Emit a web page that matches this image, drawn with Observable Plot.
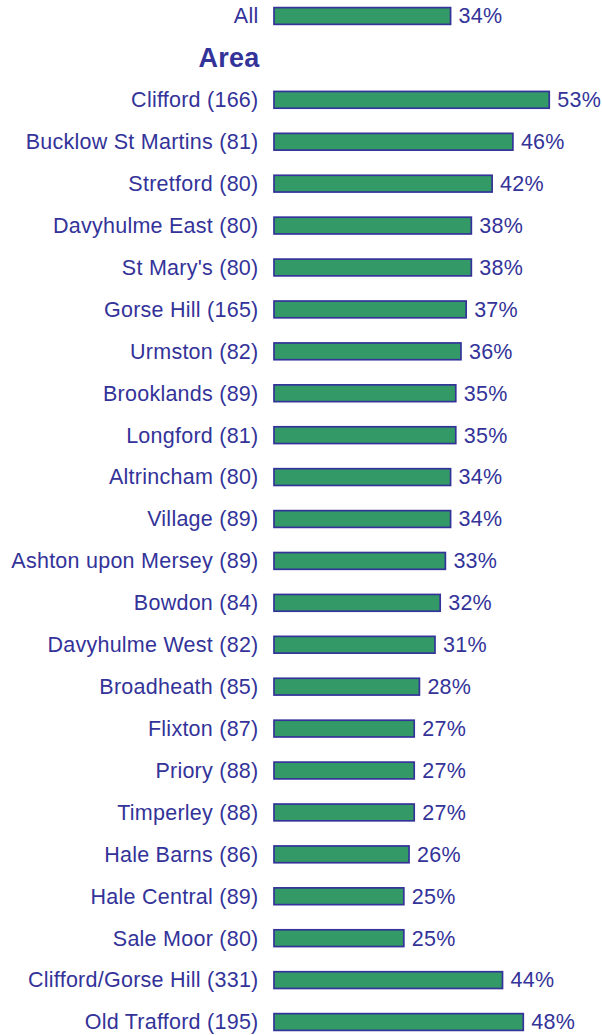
<!DOCTYPE html>
<html><head><meta charset="utf-8">
<script src="https://cdn.jsdelivr.net/npm/d3@7"></script>
<script src="https://cdn.jsdelivr.net/npm/@observablehq/plot@0.6"></script>
<style>body{margin:0;background:#fff}</style>
</head><body><div id="chart"></div>
<script>
const overallLabel = "All";
const overallValue = 34;
const sectionTitle = "Area";
const areas = [
  "Clifford (166)", "Bucklow St Martins (81)", "Stretford (80)", "Davyhulme East (80)",
  "St Mary's (80)", "Gorse Hill (165)", "Urmston (82)", "Brooklands (89)", "Longford (81)",
  "Altrincham (80)", "Village (89)", "Ashton upon Mersey (89)", "Bowdon (84)",
  "Davyhulme West (82)", "Broadheath (85)", "Flixton (87)", "Priory (88)", "Timperley (88)",
  "Hale Barns (86)", "Hale Central (89)", "Sale Moor (80)", "Clifford/Gorse Hill (331)",
  "Old Trafford (195)"
];
const areaValues = [53, 46, 42, 38, 38, 37, 36, 35, 35, 34, 34, 33, 32, 31, 28, 27, 27, 27, 26, 25, 25, 44, 48];

const rows = [{label: overallLabel, value: overallValue},
  ...areas.map((a, i) => ({label: a, value: areaValues[i]}))];
const domain = [overallLabel, sectionTitle, ...areas];

const navy = "#333399";
const green = "#339966";
const fs = 21.5;

const chart = Plot.plot({
  width: 602,
  height: 1035,
  marginLeft: 274,
  marginRight: 16.4,
  marginTop: 7.6,
  marginBottom: 4.6,
  style: {fontFamily: "'Liberation Sans', Arial, sans-serif", background: "#fff", letterSpacing: "0.25px"},
  x: {axis: null, domain: [0, 60]},
  y: {axis: null, domain, paddingInner: 0.6, paddingOuter: 0, round: false},
  marks: [
    Plot.barX(rows, {x: "value", y: "label", fill: green, stroke: navy, strokeWidth: 1.7}),
    Plot.text(rows, {x: 0, y: "label", text: "label", textAnchor: "end", dx: -16, fill: navy, fontSize: fs}),
    Plot.text([sectionTitle], {x: 0, y: d => d, text: d => d, textAnchor: "end", dx: -15, fill: navy, fontSize: 27, fontWeight: "bold"}),
    Plot.text(rows, {x: "value", y: "label", text: d => d.value + "%", textAnchor: "start", dx: 7.5, fill: navy, fontSize: fs})
  ]
});
document.getElementById("chart").appendChild(chart);
</script>
</body></html>
